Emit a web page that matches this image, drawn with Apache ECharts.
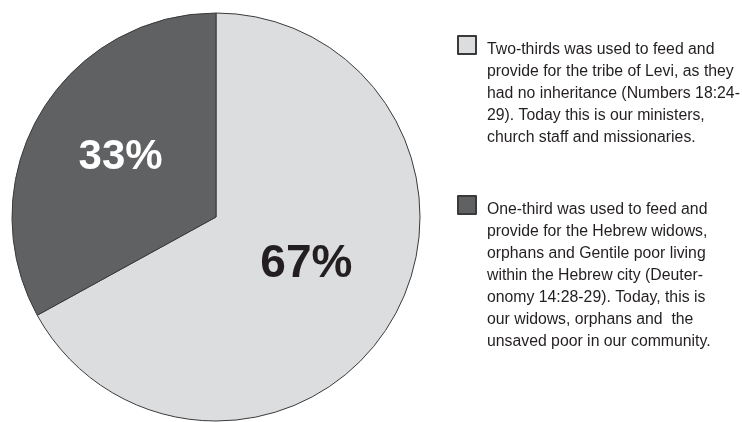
<!DOCTYPE html>
<html><head><meta charset="utf-8">
<script src="https://cdn.jsdelivr.net/npm/echarts@6/dist/echarts.min.js"></script>
<style>html,body{margin:0;padding:0;background:#fff}#c{width:742px;height:422px}</style>
</head><body><div id="c"></div>
<script>
const categories = ['Two-thirds', 'One-third'];
const values = [67, 33];
const labels = ['67%', '33%'];
const legendTexts = [
  'Two-thirds was used to feed and\nprovide for the tribe of Levi, as they\nhad no inheritance (Numbers 18:24-\n29). Today this is our ministers,\nchurch staff and missionaries.',
  'One-third was used to feed and\nprovide for the Hebrew widows,\norphans and Gentile poor living\nwithin the Hebrew city (Deuter-\nonomy 14:28-29). Today, this is\nour widows, orphans and  the\nunsaved poor in our community.'
];
const colors = ['#dcdddf', '#606163'];
const FONT = "'Liberation Sans', Arial, sans-serif";
const LH = 22;

const chart = echarts.init(document.getElementById('c'), null, {renderer: 'canvas'});
function legendFor(i, iconTop) {
  const n = legendTexts[i].split('\n').length;
  const H = LH * n - 13;
  const mid = iconTop + 9;
  return {
    orient: 'vertical', left: 457, top: mid - (H + LH * n) / 2, padding: 0,
    itemWidth: 18, itemHeight: 18, itemGap: 0, icon: 'rect',
    data: [categories[i]],
    formatter: () => '{e| }\n' + legendTexts[i],
    selectedMode: false,
    textStyle: {
      fontFamily: FONT, fontSize: 15.8, color: '#231f20', lineHeight: LH,
      padding: [0, 0, 0, 6],
      rich: {e: {lineHeight: H, fontSize: 2}}
    }
  };
}
chart.setOption({
  animation: false,
  legend: [legendFor(0, 36), legendFor(1, 196)],
  series: [{
    type: 'pie',
    center: [216, 217],
    radius: 204,
    startAngle: 90,
    clockwise: true,
    silent: true,
    itemStyle: {borderColor: '#3a3a3a', borderWidth: 1},
    labelLine: {show: false},
    data: categories.map((c, i) => ({
      name: c, value: values[i],
      itemStyle: {color: colors[i]},
      label: {
        show: true, position: 'inside', formatter: labels[i],
        fontFamily: FONT, fontWeight: 'bold',
        fontSize: i === 0 ? 46 : 42,
        color: i === 0 ? '#231f20' : '#ffffff',
        offset: i === 0 ? [0, -6] : [-5, -6]
      }
    }))
  }]
});
</script></body></html>
